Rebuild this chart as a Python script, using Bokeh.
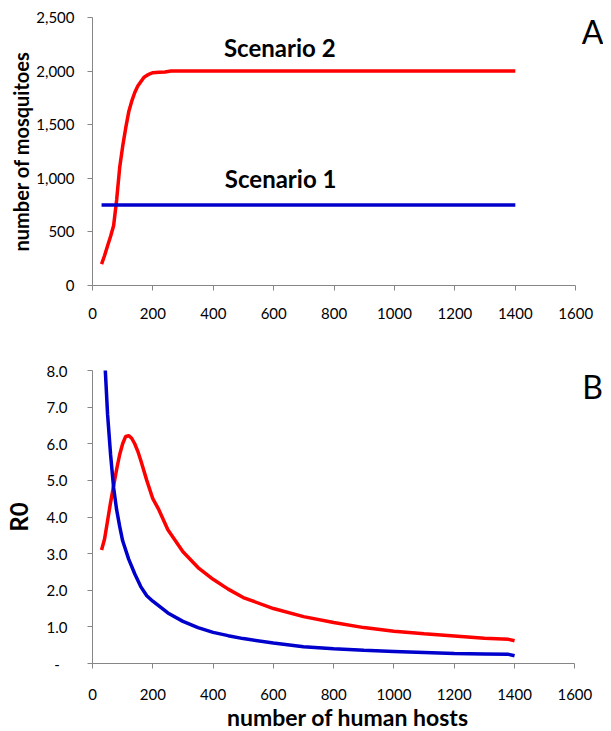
from bokeh.plotting import figure
from bokeh.layouts import column
from bokeh.models import Range1d, NumeralTickFormatter, FixedTicker, Label
from bokeh.embed import file_html
from bokeh.resources import INLINE

# ---------------- data ----------------
# Panel A: number of mosquitoes vs number of human hosts
s1_hosts_a = [30, 1400]
s1_mosq = [750, 750]

s2_hosts_a = [30, 40, 50, 60, 70, 80, 90, 100, 110, 120, 130, 140, 150, 160,
              170, 180, 190, 200, 220, 240, 260, 1400]
s2_mosq = [200, 280, 370, 460, 560, 800, 1100, 1300, 1470, 1620, 1720, 1800,
           1860, 1900, 1940, 1960, 1975, 1985, 1990, 1992, 2000, 2000]

# Panel B: R0 vs number of human hosts
s1_hosts_b = [30, 40, 50, 60, 70, 80, 90, 100, 120, 140, 160, 180, 200, 250,
              300, 350, 400, 450, 500, 600, 700, 800, 900, 1000, 1100, 1200,
              1300, 1380, 1400]
s1_r0 = [11.2, 8.4, 6.8, 5.7, 4.8, 4.2, 3.75, 3.35, 2.85, 2.45, 2.1, 1.85, 1.7,
         1.38, 1.15, 0.98, 0.85, 0.76, 0.68, 0.56, 0.46, 0.40, 0.36, 0.33, 0.30,
         0.27, 0.26, 0.25, 0.21]

s2_hosts_b = [30, 40, 50, 60, 70, 80, 90, 100, 110, 120, 130, 140, 150, 160,
              180, 200, 220, 250, 300, 350, 400, 450, 500, 600, 700, 800, 900,
              1000, 1100, 1200, 1300, 1380, 1400]
s2_r0 = [3.1, 3.4, 3.9, 4.4, 4.85, 5.3, 5.7, 6.0, 6.2, 6.22, 6.15, 6.0, 5.8,
         5.55, 5.0, 4.5, 4.2, 3.65, 3.05, 2.62, 2.3, 2.03, 1.8, 1.5, 1.28, 1.12,
         0.98, 0.88, 0.81, 0.75, 0.69, 0.66, 0.62]

x_ticks = [0, 200, 400, 600, 800, 1000, 1200, 1400, 1600]
ya_ticks = [0, 500, 1000, 1500, 2000, 2500]
yb_ticks = [0, 1, 2, 3, 4, 5, 6, 7, 8]

RED = "#ff0000"
BLUE = "#0000cc"
AXIS = "#868686"
FONT = "Lato"


def style_axes(p):
    for ax in (p.xaxis[0], p.yaxis[0]):
        ax.axis_line_color = AXIS
        ax.major_tick_line_color = AXIS
        ax.minor_tick_line_color = None
        ax.major_tick_in = 0
        ax.major_tick_out = 5
        ax.major_label_text_font = FONT
        ax.major_label_text_font_size = "15px"
        ax.major_label_text_color = "black"
        ax.axis_label_text_font = FONT
        ax.axis_label_text_font_style = "bold"
        ax.axis_label_text_color = "black"
    p.xgrid.grid_line_color = None
    p.ygrid.grid_line_color = None
    p.outline_line_color = None
    p.xaxis.ticker = FixedTicker(ticks=x_ticks)
    p.xaxis.bounds = (0, 1600)


# ---------------- panel A ----------------
p1 = figure(width=603, height=337, x_range=Range1d(0, 1692), y_range=Range1d(0, 2500),
            output_backend="svg", toolbar_location=None,
            min_border_left=87, min_border_right=0, min_border_top=17, min_border_bottom=52)
style_axes(p1)
p1.yaxis.ticker = FixedTicker(ticks=ya_ticks)
p1.yaxis.formatter = NumeralTickFormatter(format="0,0")
p1.yaxis.axis_label = "number of mosquitoes"
p1.yaxis.axis_label_text_font_size = "20px"
p1.yaxis.major_label_standoff = 13
p1.yaxis.axis_label_standoff = 0
p1.xaxis.major_label_standoff = 17

p1.line(s2_hosts_a, s2_mosq, line_color=RED, line_width=3.5)
p1.line(s1_hosts_a, s1_mosq, line_color=BLUE, line_width=3.5)

for txt, xx, yy in (("Scenario 2", 620, 2220), ("Scenario 1", 623, 998)):
    p1.add_layout(Label(x=xx, y=yy, text=txt, text_font=FONT, text_font_style="bold",
                        text_font_size="24px", text_align="center", text_baseline="middle",
                        text_color="black"))
p1.add_layout(Label(x=1656, y=2365, text="A", text_font=FONT, text_font_size="32px",
                    text_align="center", text_baseline="middle", text_color="black"))

# ---------------- panel B ----------------
p2 = figure(width=603, height=396, x_range=Range1d(0, 1695), y_range=Range1d(0, 8),
            output_backend="svg", toolbar_location=None,
            min_border_left=86, min_border_right=0, min_border_top=33, min_border_bottom=68)
style_axes(p2)
p2.yaxis.ticker = FixedTicker(ticks=yb_ticks)
p2.yaxis.formatter = NumeralTickFormatter(format="0.0")
p2.yaxis.major_label_overrides = {0: "-\u00a0\u00a0"}
p2.yaxis.axis_label = "R0"
p2.yaxis.axis_label_text_font_size = "24px"
p2.yaxis.major_label_standoff = 20
p2.yaxis.axis_label_standoff = 11
p2.xaxis.axis_label = "number of human hosts"
p2.xaxis.axis_label_text_font_size = "23px"
p2.xaxis.major_label_standoff = 20
p2.xaxis.axis_label_standoff = 0

p2.line(s2_hosts_b, s2_r0, line_color=RED, line_width=3.5)
p2.line(s1_hosts_b, s1_r0, line_color=BLUE, line_width=3.5)

p2.add_layout(Label(x=1659, y=7.57, text="B", text_font=FONT, text_font_size="32px",
                    text_align="center", text_baseline="middle", text_color="black"))

layout = column(p1, p2, spacing=0)
open("out.html", "w").write(file_html(layout, INLINE))
